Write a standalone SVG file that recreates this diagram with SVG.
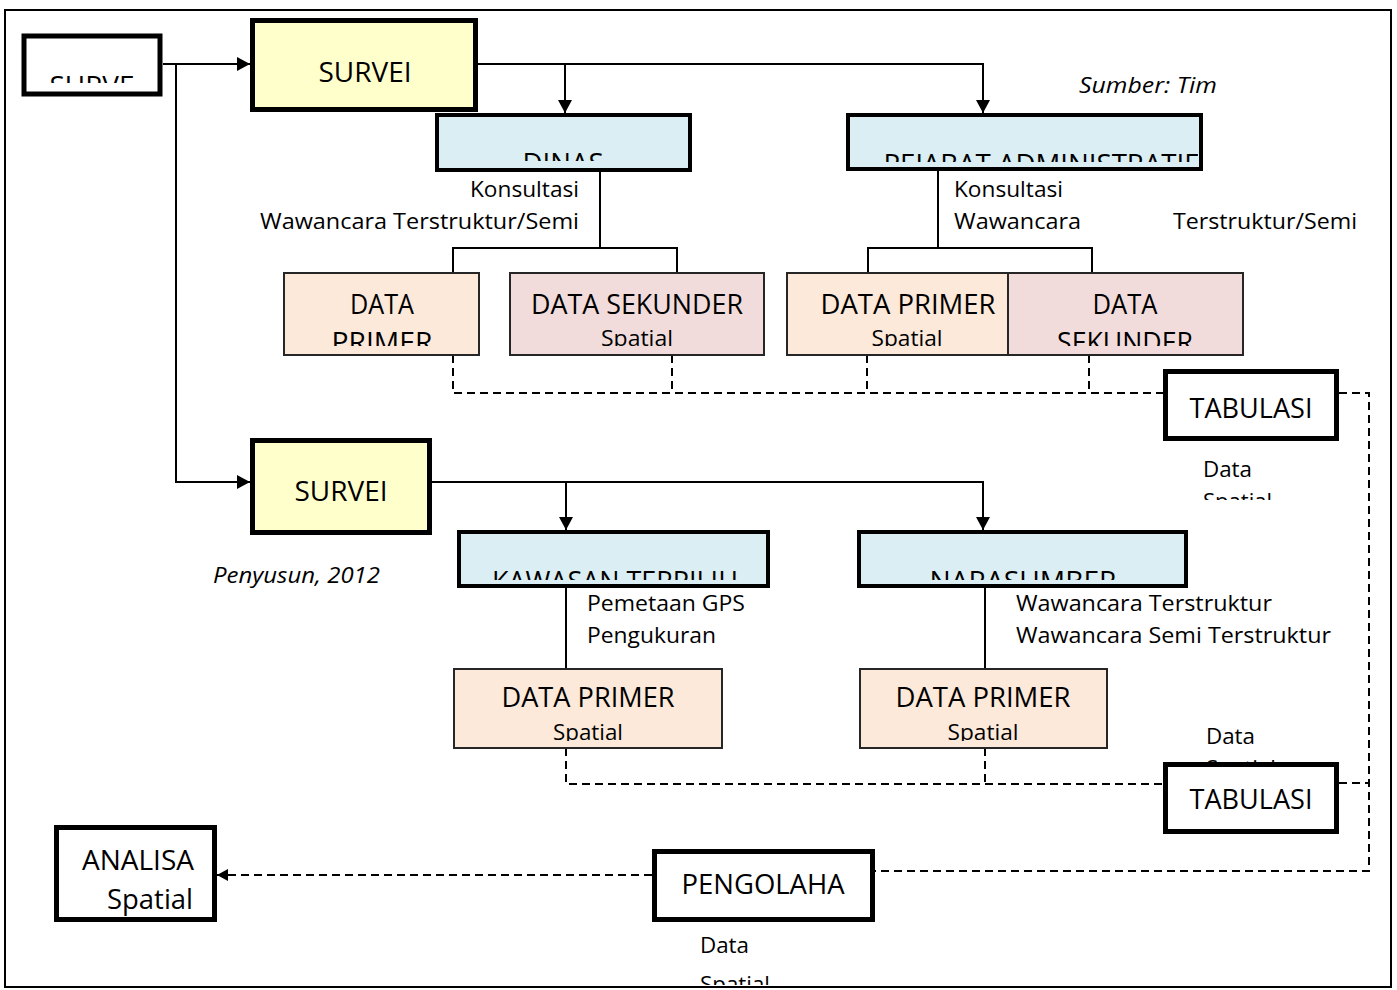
<svg xmlns="http://www.w3.org/2000/svg" width="1397" height="990" viewBox="0 0 1397 990">
  <style>
    text { font-family: "Open Sans", "Liberation Sans", sans-serif; fill: #000; }
    .big { font-size: 27px; }
    .sm { font-size: 22.5px; }
    .it { font-size: 22.5px; font-style: italic; }
    .c { text-anchor: middle; }
    .e { text-anchor: end; }
    .thick { fill: #fff; stroke: #000; stroke-width: 5; }
    .yellow { fill: #FFFFCC; stroke: #000; stroke-width: 5; }
    .blue { fill: #DAEEF3; stroke: #000; stroke-width: 4; }
    .prim { fill: #FDE9D9; stroke: #262626; stroke-width: 2; }
    .sek { fill: #F2DCDB; stroke: #262626; stroke-width: 2; }
    .ln { fill: none; stroke: #000; stroke-width: 2; }
    .dash { fill: none; stroke: #000; stroke-width: 2; stroke-dasharray: 8 5; }
  </style>
  <defs>
    <marker id="arrow" markerUnits="userSpaceOnUse" markerWidth="14" markerHeight="14" refX="13" refY="7" orient="auto">
      <path d="M0,0 L13,7 L0,14 z" fill="#000"/>
    </marker>
    <marker id="arrowSm" markerUnits="userSpaceOnUse" markerWidth="12" markerHeight="12" refX="11" refY="6" orient="auto">
      <path d="M0,0 L11,6 L0,12 z" fill="#000"/>
    </marker>
    <clipPath id="clipSurve"><rect x="26" y="40" width="132" height="43"/></clipPath>
    <clipPath id="clipDinas"><rect x="440" y="117" width="248" height="44"/></clipPath>
    <clipPath id="clipPejabat"><rect x="850" y="117" width="348" height="45"/></clipPath>
    <clipPath id="clipRow1"><rect x="280" y="274" width="970" height="72"/></clipPath>
    <clipPath id="clipKawasan"><rect x="461" y="534" width="305" height="46"/></clipPath>
    <clipPath id="clipNara"><rect x="861" y="534" width="323" height="46"/></clipPath>
    <clipPath id="clipRow2"><rect x="450" y="670" width="660" height="71"/></clipPath>
    <clipPath id="clipData1"><rect x="1190" y="450" width="120" height="50"/></clipPath>
    <clipPath id="clipData3"><rect x="690" y="925" width="120" height="60"/></clipPath>
  </defs>

  <!-- page frame -->
  <rect x="5" y="10" width="1386" height="977" fill="#fff" stroke="#000" stroke-width="2"/>

  <!-- connectors -->
  <g id="connectors">
    <!-- start to both surveys -->
    <path class="ln" d="M163,64 H250" marker-end="url(#arrow)"/>
    <path class="ln" d="M176,64 V482 H250" marker-end="url(#arrow)"/>
    <!-- first survey branches -->
    <path class="ln" d="M478,64 H983 V113" marker-end="url(#arrow)"/>
    <path class="ln" d="M565,64 V113" marker-end="url(#arrow)"/>
    <!-- DINAS to its data -->
    <path class="ln" d="M600,172 V248"/>
    <path class="ln" d="M453,272 V248 H677 V272"/>
    <!-- PEJABAT to its data -->
    <path class="ln" d="M938,171 V248"/>
    <path class="ln" d="M868,272 V248 H1092 V272"/>
    <!-- row 1 to first tabulation -->
    <path class="dash" d="M453,355 V393 H1163"/>
    <path class="dash" d="M672,355 V393"/>
    <path class="dash" d="M867,355 V393"/>
    <path class="dash" d="M1089,355 V393"/>
    <!-- second survey branches -->
    <path class="ln" d="M432,482 H983 V530" marker-end="url(#arrow)"/>
    <path class="ln" d="M566,482 V530" marker-end="url(#arrow)"/>
    <path class="ln" d="M566,588 V668"/>
    <path class="ln" d="M985,588 V668"/>
    <!-- row 2 to second tabulation -->
    <path class="dash" d="M566,748 V784 H1163"/>
    <path class="dash" d="M985,748 V784"/>
    <!-- tabulations to processing -->
    <path class="dash" d="M1339,393 H1369 V871 H875"/>
    <path class="dash" d="M1339,783 H1369"/>
    <!-- processing to analysis -->
    <path class="dash" d="M652,875 H217" marker-end="url(#arrowSm)"/>
  </g>

  <g id="node-surve">
    <rect class="thick" x="24" y="36" width="136" height="58" stroke-width="6"/>
    <text class="big c" x="92" y="96" textLength="85" lengthAdjust="spacingAndGlyphs" clip-path="url(#clipSurve)">SURVE</text>
  </g>

  <g id="node-survei-1">
    <rect class="yellow" x="252.5" y="20.5" width="223" height="89"/>
    <text class="big c" x="365" y="82" textLength="93" lengthAdjust="spacingAndGlyphs">SURVEI</text>
  </g>

  <g id="node-dinas">
    <rect class="blue" x="437" y="115" width="253" height="55"/>
    <text class="big c" x="563" y="173" textLength="81" lengthAdjust="spacingAndGlyphs" clip-path="url(#clipDinas)">DINAS</text>
  </g>

  <g id="node-pejabat">
    <rect class="blue" x="848" y="115" width="353" height="54"/>
    <text class="big c" x="1041" y="174" textLength="315" lengthAdjust="spacingAndGlyphs" clip-path="url(#clipPejabat)">PEJABAT ADMINISTRATIF</text>
  </g>

  <text class="it" x="1079" y="93" textLength="138" lengthAdjust="spacingAndGlyphs">Sumber: Tim</text>

  <g id="labels-dinas">
    <text class="sm e" x="579" y="197" textLength="109" lengthAdjust="spacingAndGlyphs">Konsultasi</text>
    <text class="sm e" x="579" y="229" textLength="319" lengthAdjust="spacingAndGlyphs">Wawancara Terstruktur/Semi</text>
  </g>
  <g id="labels-pejabat">
    <text class="sm" x="954" y="197" textLength="109" lengthAdjust="spacingAndGlyphs">Konsultasi</text>
    <text class="sm" x="954" y="229" textLength="127" lengthAdjust="spacingAndGlyphs">Wawancara</text>
    <text class="sm" x="1173" y="229" textLength="184" lengthAdjust="spacingAndGlyphs">Terstruktur/Semi</text>
  </g>

  <g id="node-primer-1">
    <rect class="prim" x="284" y="273" width="195" height="82"/>
    <text class="big c" x="382" y="314" textLength="64" lengthAdjust="spacingAndGlyphs">DATA</text>
    <text class="big c" x="382" y="352" textLength="101" lengthAdjust="spacingAndGlyphs" clip-path="url(#clipRow1)">PRIMER</text>
  </g>

  <g id="node-sekunder-1">
    <rect class="sek" x="510" y="273" width="254" height="82"/>
    <text class="big c" x="637" y="314" textLength="212" lengthAdjust="spacingAndGlyphs">DATA SEKUNDER</text>
    <text class="sm c" x="637" y="346" textLength="72" lengthAdjust="spacingAndGlyphs" clip-path="url(#clipRow1)">Spatial</text>
  </g>

  <g id="node-primer-2">
    <rect class="prim" x="787" y="273" width="242" height="82"/>
    <text class="big c" x="908" y="314" textLength="175" lengthAdjust="spacingAndGlyphs">DATA PRIMER</text>
    <text class="sm c" x="907" y="346" textLength="71" lengthAdjust="spacingAndGlyphs" clip-path="url(#clipRow1)">Spatial</text>
  </g>

  <g id="node-sekunder-2">
    <rect class="sek" x="1008" y="273" width="235" height="82"/>
    <text class="big c" x="1125" y="314" textLength="65" lengthAdjust="spacingAndGlyphs">DATA</text>
    <text class="big c" x="1125" y="352" textLength="136" lengthAdjust="spacingAndGlyphs" clip-path="url(#clipRow1)">SEKUNDER</text>
  </g>

  <g id="node-tabulasi-1">
    <rect class="thick" x="1165.5" y="371.5" width="171" height="67"/>
    <text class="big c" x="1251" y="418" textLength="123" lengthAdjust="spacingAndGlyphs">TABULASI</text>
  </g>
  <g id="label-tabulasi-1">
    <text class="sm" x="1203" y="477" textLength="49" lengthAdjust="spacingAndGlyphs">Data</text>
    <text class="sm" x="1203" y="509" textLength="69" lengthAdjust="spacingAndGlyphs" clip-path="url(#clipData1)">Spatial</text>
  </g>

  <g id="node-survei-2">
    <rect class="yellow" x="252.5" y="440.5" width="177" height="92"/>
    <text class="big c" x="341" y="501" textLength="93" lengthAdjust="spacingAndGlyphs">SURVEI</text>
  </g>

  <text class="it" x="213" y="583" textLength="167" lengthAdjust="spacingAndGlyphs">Penyusun, 2012</text>

  <g id="node-kawasan">
    <rect class="blue" x="459" y="532" width="309" height="54"/>
    <text class="big c" x="615" y="591" textLength="246" lengthAdjust="spacingAndGlyphs" clip-path="url(#clipKawasan)">KAWASAN TERPILIH</text>
  </g>

  <g id="node-narasumber">
    <rect class="blue" x="859" y="532" width="327" height="54"/>
    <text class="big c" x="1023" y="591" textLength="187" lengthAdjust="spacingAndGlyphs" clip-path="url(#clipNara)">NARASUMBER</text>
  </g>

  <g id="labels-kawasan">
    <text class="sm" x="587" y="611" textLength="158" lengthAdjust="spacingAndGlyphs">Pemetaan GPS</text>
    <text class="sm" x="587" y="643" textLength="129" lengthAdjust="spacingAndGlyphs">Pengukuran</text>
  </g>
  <g id="labels-narasumber">
    <text class="sm" x="1016" y="611" textLength="256" lengthAdjust="spacingAndGlyphs">Wawancara Terstruktur</text>
    <text class="sm" x="1016" y="643" textLength="315" lengthAdjust="spacingAndGlyphs">Wawancara Semi Terstruktur</text>
  </g>

  <g id="node-primer-3">
    <rect class="prim" x="454" y="669" width="268" height="79"/>
    <text class="big c" x="588" y="707" textLength="173" lengthAdjust="spacingAndGlyphs">DATA PRIMER</text>
    <text class="sm c" x="588" y="740" textLength="70" lengthAdjust="spacingAndGlyphs" clip-path="url(#clipRow2)">Spatial</text>
  </g>

  <g id="node-primer-4">
    <rect class="prim" x="860" y="669" width="247" height="79"/>
    <text class="big c" x="983" y="707" textLength="175" lengthAdjust="spacingAndGlyphs">DATA PRIMER</text>
    <text class="sm c" x="983" y="740" textLength="71" lengthAdjust="spacingAndGlyphs" clip-path="url(#clipRow2)">Spatial</text>
  </g>

  <g id="label-tabulasi-2">
    <text class="sm" x="1206" y="744" textLength="49" lengthAdjust="spacingAndGlyphs">Data</text>
    <text class="sm" x="1206" y="776" textLength="70" lengthAdjust="spacingAndGlyphs">Spatial</text>
  </g>

  <g id="node-tabulasi-2">
    <rect class="thick" x="1165.5" y="764.5" width="171" height="67"/>
    <text class="big c" x="1251" y="809" textLength="123" lengthAdjust="spacingAndGlyphs">TABULASI</text>
  </g>

  <g id="node-pengolahan">
    <rect class="thick" x="654.5" y="851.5" width="218" height="68"/>
    <text class="big c" x="763" y="894" textLength="163" lengthAdjust="spacingAndGlyphs">PENGOLAHA</text>
  </g>
  <g id="label-pengolahan">
    <text class="sm" x="700" y="953" textLength="49" lengthAdjust="spacingAndGlyphs">Data</text>
    <text class="sm" x="700" y="992" textLength="70" lengthAdjust="spacingAndGlyphs" clip-path="url(#clipData3)">Spatial</text>
  </g>

  <g id="node-analisa">
    <rect class="thick" x="56.5" y="827.5" width="158" height="92"/>
    <text class="big" x="82" y="870" textLength="112" lengthAdjust="spacingAndGlyphs">ANALISA</text>
    <text class="big" x="107" y="909" textLength="86" lengthAdjust="spacingAndGlyphs">Spatial</text>
  </g>
</svg>
